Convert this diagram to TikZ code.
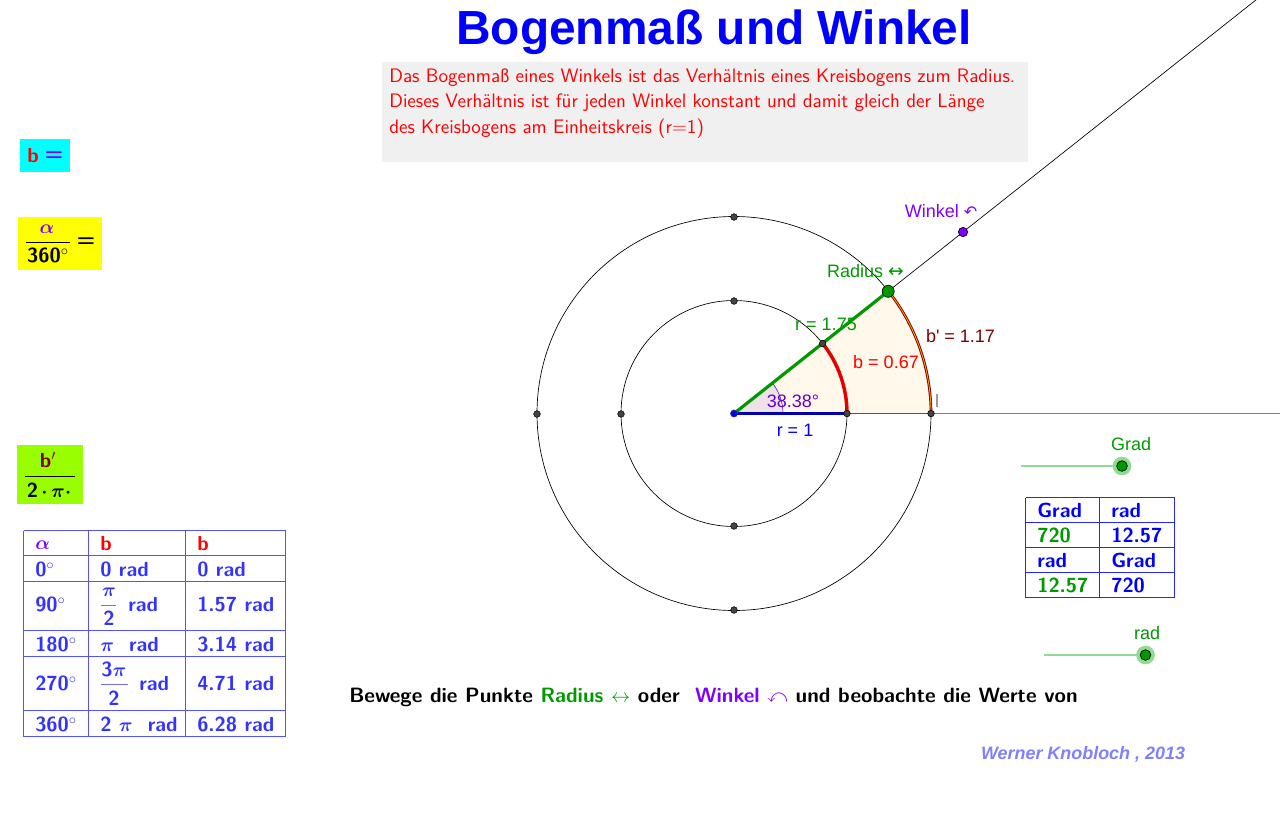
\documentclass[tikz,border=0pt]{standalone}
\usepackage{amsmath,amssymb}
\usepackage{fontspec}
\newfontfamily\lib{Liberation Sans}
\newfontfamily\dej{DejaVu Sans}
\newcommand\bmath[1]{\mbox{\boldmath$#1$}}
\definecolor{tblue}{RGB}{51,51,255}
\definecolor{purp}{RGB}{127,0,255}
\definecolor{ggreen}{RGB}{0,153,0}
\definecolor{dred}{RGB}{128,0,0}
\definecolor{lim}{RGB}{153,255,0}
\definecolor{sand}{RGB}{255,248,235}
\definecolor{pt}{RGB}{68,68,68}
\definecolor{sl}{RGB}{145,218,145}
\definecolor{cyanbox}{RGB}{0,255,255}
\definecolor{yellowbox}{RGB}{255,255,0}
\definecolor{authc}{RGB}{128,128,255}
\definecolor{pinkish}{RGB}{238,226,232}
\tikzset{
 x=0.75pt,y=-0.75pt,
 lbl/.style={font=\lib\fontsize{13.5}{15}\selectfont,inner sep=0,anchor=base},
 tx/.style={font=\sffamily\bfseries\fontsize{15.3}{18}\selectfont,inner sep=0,anchor=base west},
 ttl/.style={tx,text=tblue},
 intro/.style={tx,font=\sffamily\fontsize{14.63}{18}\selectfont,text=red},
 mth/.style={inner sep=0,font=\fontsize{15.3}{18}\selectfont},
 eqs/.style={inner sep=0,font=\sffamily\bfseries\fontsize{16}{18}\selectfont},
 dot/.style={circle,fill=pt,draw=black,line width=.4pt,minimum size=5pt,inner sep=0},
 knob/.style={circle,fill=ggreen,draw=black,line width=.5pt,minimum size=8pt,inner sep=0},
 halo/.style={circle,fill=sl,minimum size=14pt,inner sep=0},
 tline/.style={tblue!85,line width=.7pt},
 rline/.style={blue!85,line width=.7pt},
}
\begin{document}
\begin{tikzpicture}
\useasboundingbox (0,0) rectangle (1280,818);
% title and intro
\node[font=\lib\bfseries\fontsize{35.9}{40}\selectfont,text=blue,inner sep=0] (title) at (714,32.5) {Bogenmaß und Winkel};
\fill[black!6] (382,62) rectangle (1028,162);
\node[intro] (l1) at (389,82) {Das Bogenmaß eines Winkels ist das Verhältnis eines Kreisbogens zum Radius.};
\node[intro] (l2) at (389,107) {Dieses Verhältnis ist für jeden Winkel konstant und damit gleich der Länge};
\node[intro] (l3) at (389,133) {des Kreisbogens am Einheitskreis (r=1)};
% left formula boxes
\fill[cyanbox] (20,139) rectangle (70,172);
\node[tx,text=red] (fb) at (27,162) {b};
\node[eqs,text=purp] (fbeq) at (54,156) {=};
\fill[yellowbox] (18,217) rectangle (102,270);
\node[mth,text=purp] (fa) at (47,229) {\bmath{\alpha}};
\coordinate (fal) at (26,242);\coordinate (far) at (70,242);
\draw[line width=.6pt] (fal) -- (far);
\node[tx,anchor=base] (f360) at (48,262) {360$^\circ$};
\node[eqs] (faeq) at (86,242) {=};
\fill[lim] (17,445) rectangle (83,504);
\node[tx,anchor=base,text=dred] (fbp) at (48,467) {b$'$};
\coordinate (gl) at (25,476.5);\coordinate (gr) at (75,476.5);
\draw[line width=.6pt] (gl) -- (gr);
\node[tx,anchor=base] (f2pi) at (49,497) {2\,\bmath{\cdot\,\pi\cdot}};
% left table
\foreach \y in {530.5,555.5,581.5,630,656.5,710,736.5}
  \draw[tline] (23.5,\y) -- (285.5,\y);
\foreach \x in {23.5,88.5,185.5,285.5}
  \draw[tline] (\x,530.5) -- (\x,736.5);
\node[mth,text=purp,anchor=base west] (c0) at (35,549) {\bmath{\alpha}};
\node[tx,text=red] (c1) at (100,550) {b};
\node[tx,text=red] (c2) at (197,550) {b};
\node[ttl] (a1) at (35,576) {0$^\circ$};
\node[ttl] (b1) at (100,576) {0 rad};
\node[ttl] (d1) at (197,576) {0 rad};
\node[ttl] (a2) at (35,611) {90$^\circ$};
\node[mth,text=tblue,anchor=base] (b2n) at (109,596) {\bmath{\pi}};
\coordinate (b2l) at (101,605);\coordinate (b2r) at (116,605);
\draw[tblue!70,line width=.5pt] (b2l) -- (b2r);
\node[tx,anchor=base,text=tblue] (b2d) at (109,625) {2};
\node[ttl] (b2) at (128,611) {rad};
\node[ttl] (d2) at (197,611) {1.57 rad};
\node[ttl] (a3) at (35,651) {180$^\circ$};
\node[ttl] (b3) at (100,651) {\bmath{\pi} \ rad};
\node[ttl] (d3) at (197,651) {3.14 rad};
\node[ttl] (a4) at (35,690) {270$^\circ$};
\node[tx,anchor=base,text=tblue] (b4n) at (114,676) {3\bmath{\pi}};
\coordinate (b4l) at (101,684.5);\coordinate (b4r) at (128,684.5);
\draw[tblue!70,line width=.5pt] (b4l) -- (b4r);
\node[tx,anchor=base,text=tblue] (b4d) at (114,705) {2};
\node[ttl] (b4) at (139,690) {rad};
\node[ttl] (d4) at (197,690) {4.71 rad};
\node[ttl] (a5) at (35,731) {360$^\circ$};
\node[ttl] (b5) at (100,731) {2 \bmath{\pi} \ rad};
\node[ttl] (d5) at (197,731) {6.28 rad};
% geometry
\coordinate (M) at (734,413.5);
\coordinate (E) at (1280,413.5);
\coordinate (A) at (888.2,291.3);
\coordinate (I) at (931,413.5);
\coordinate (K) at (783,413.5);
\coordinate (B) at (822.6,343.5);
\coordinate (J) at (847,413.5);
\coordinate (W) at (963,232);
\coordinate (R) at (1258.4,-2);
\fill[sand] (M) -- (I) arc[start angle=0,end angle=-38.38,radius=197] -- cycle;
\fill[pinkish] (M) -- (K) arc[start angle=0,end angle=-38.38,radius=49] -- cycle;
\draw[purp!70!black,line width=.4pt] (K) arc[start angle=0,end angle=-38.38,radius=49];
\draw[line width=.5pt] (M) circle[radius=113];
\draw[line width=.5pt] (M) circle[radius=197];
\draw[black!50,line width=1.2pt] (I) -- (E);
\draw[line width=.5pt] (A) -- (R);
\draw[dred!60!sand!70!black,line width=1.1pt] (M) -- (I);
\draw[blue!70!black,line width=2.3pt] (M) -- (J);
\draw[ggreen,line width=2.4pt] (M) -- (A);
\draw[red!90!black,line width=2.6pt] (J) arc[start angle=0,end angle=-38.38,radius=113];
\draw[dred,line width=2pt] (I) arc[start angle=0,end angle=-38.38,radius=197];
\draw[orange!70!yellow,line width=.6pt] (I) arc[start angle=0,end angle=-38.38,radius=197];
\node[dot] (p1) at (734,217) {};
\node[dot] (p2) at (734,301) {};
\node[dot] (p3) at (734,526) {};
\node[dot] (p4) at (734,610) {};
\node[dot] (p5) at (537,414) {};
\node[dot] (p6) at (621,414) {};
\node[dot] (pJ) at (J) {};
\node[dot] (pI) at (I) {};
\node[dot] (pB) at (B) {};
\node[circle,fill=blue,draw=black!70,line width=.3pt,minimum size=5.5pt,inner sep=0] (pM) at (M) {};
\node[knob,minimum size=9pt] (pA) at (A) {};
\node[circle,fill=purp,draw=black,line width=.5pt,minimum size=7pt,inner sep=0] (pW) at (W) {};
% geometry labels
\node[lbl,text=purp] (wl) at (941,217) {Winkel {\dej\fontsize{12}{13}\selectfont ↶}};
\node[lbl,text=ggreen] (rl) at (865.5,277) {Radius {\dej\fontsize{14}{13}\selectfont ↔}};
\node[lbl,text=ggreen] (rv) at (826,330) {r = 1.75};
\node[lbl,text=red] (bv) at (886,368) {b = 0.67};
\node[lbl,text=dred] (bp) at (960.5,342) {b' = 1.17};
\node[lbl,text=purp!80!black] (ang) at (793,407) {38.38°};
\node[lbl,text=blue] (r1) at (795,436) {r = 1};
\node[lbl,text=black!50] (il) at (937,407) {l};
% sliders
\coordinate (s1) at (1021,466);\coordinate (s1e) at (1122,466);
\coordinate (s2) at (1044,655);\coordinate (s2e) at (1145.5,655);
\draw[sl,line width=2.2pt] (s1) -- (s1e);
\draw[sl,line width=2.2pt] (s2) -- (s2e);
\node[halo] (k1h) at (s1e) {};
\node[knob] (k1) at (s1e) {};
\node[halo] (k2h) at (s2e) {};
\node[knob] (k2) at (s2e) {};
\node[lbl,text=ggreen] (gl1) at (1131,450) {Grad};
\node[lbl,text=ggreen] (gl2) at (1147,639) {rad};
% right table
\foreach \y in {497.5,522.5,547.5,572.5,597.5}
  \draw[rline] (1025.5,\y) -- (1174.5,\y);
\foreach \x in {1025.5,1099.5,1174.5}
  \draw[rline] (\x,497.5) -- (\x,597.5);
\node[tx,text=blue] (t1) at (1037,517) {Grad};
\node[tx,text=blue] (t2) at (1111,517) {rad};
\node[tx,text=ggreen] (t3) at (1037,542) {720};
\node[tx,text=blue] (t4) at (1111,542) {12.57};
\node[tx,text=blue] (t5) at (1037,567) {rad};
\node[tx,text=blue] (t6) at (1111,567) {Grad};
\node[tx,text=ggreen] (t7) at (1037,592) {12.57};
\node[tx,text=blue] (t8) at (1111,592) {720};
% bottom text
\node[tx,font=\sffamily\bfseries\fontsize{15.55}{18}\selectfont] (inst) at (349,702) {Bewege die Punkte \textcolor{ggreen}{Radius} \textcolor{ggreen}{$\leftrightarrow$} oder \ \textcolor{purp}{Winkel} \textcolor{purp}{$\curvearrowleft$} und beobachte die Werte von};
\node[font=\lib\bfseries\itshape\fontsize{13.45}{15}\selectfont,text=authc,inner sep=0,anchor=base] (auth) at (1083,759) {Werner Knobloch , 2013};
\end{tikzpicture}
\end{document}
